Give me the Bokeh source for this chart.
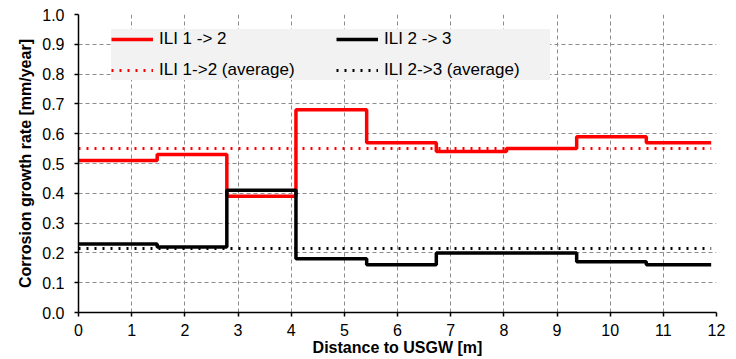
from bokeh.plotting import figure
from bokeh.models import Range1d, SingleIntervalTicker, Legend, LegendItem, NumeralTickFormatter
from bokeh.embed import file_html
from bokeh.resources import INLINE

# Segment edges along the pipe [m]
edges = [0, 1.48, 2.79, 4.09, 5.42, 6.73, 8.05, 9.37, 10.68, 11.9]
# Corrosion growth rates per segment [mm/year]
ili_12 = [0.51, 0.53, 0.39, 0.68, 0.57, 0.54, 0.55, 0.59, 0.57]
ili_23 = [0.23, 0.22, 0.41, 0.18, 0.16, 0.20, 0.20, 0.17, 0.16]
avg_12 = 0.55
avg_23 = 0.215

FONT = "Liberation Sans"

p = figure(width=736, height=359, output_backend="svg", toolbar_location=None,
           x_range=Range1d(0, 12), y_range=Range1d(0, 1),
           min_border_left=78, min_border_right=20, min_border_top=14, min_border_bottom=47)
p.outline_line_color = None

r1 = p.step(edges, ili_12 + [ili_12[-1]], mode="after", line_color="#ff0000", line_width=3.5)
r2 = p.step(edges, ili_23 + [ili_23[-1]], mode="after", line_color="#000000", line_width=3.5)
r3 = p.line([edges[0], edges[-1]], [avg_12, avg_12], line_color="#ff0000", line_width=3, line_dash="2 6")
r4 = p.line([edges[0], edges[-1]], [avg_23, avg_23], line_color="#000000", line_width=3, line_dash="2 6")

p.xaxis.ticker = SingleIntervalTicker(interval=1)
p.yaxis.ticker = SingleIntervalTicker(interval=0.1)
p.yaxis.formatter = NumeralTickFormatter(format="0.0")

for ax in (p.xaxis[0], p.yaxis[0]):
    ax.major_label_text_font = FONT
    ax.major_label_text_font_size = "16px"
    ax.major_label_text_color = "#000000"
    ax.axis_label_text_font = FONT
    ax.axis_label_text_font_size = "16px"
    ax.axis_label_text_font_style = "bold"
    ax.axis_label_text_color = "#000000"
    ax.axis_line_color = "#000000"
    ax.axis_line_width = 1.5
    ax.major_tick_line_color = "#000000"
    ax.major_tick_line_width = 1.5
    ax.major_tick_out = 4
    ax.major_tick_in = 0
    ax.minor_tick_line_color = None

p.xaxis.axis_label = "Distance to USGW [m]"
p.yaxis.axis_label = "Corrosion growth rate [mm/year]"
p.xaxis.major_label_standoff = 7
p.xaxis.axis_label_standoff = 0
p.yaxis.major_label_standoff = 10
p.yaxis.axis_label_standoff = 5

for g in (p.xgrid[0], p.ygrid[0]):
    g.grid_line_color = "#8c8c8c"
    g.grid_line_dash = "4 3"
    g.grid_line_width = 1

legend = Legend(items=[
    LegendItem(label="ILI 1 -> 2", renderers=[r1]),
    LegendItem(label="ILI 2 -> 3", renderers=[r2]),
    LegendItem(label="ILI 1->2 (average)", renderers=[r3]),
    LegendItem(label="ILI 2->3 (average)", renderers=[r4]),
], location=(33, 232), orientation="horizontal", ncols=2)
legend.background_fill_color = "#f2f2f2"
legend.background_fill_alpha = 1
legend.border_line_color = None
legend.label_text_font = FONT
legend.label_text_font_size = "17px"
legend.label_text_color = "#000000"
legend.glyph_width = 42
legend.glyph_height = 20
legend.label_height = 20
legend.label_width = 166
legend.label_standoff = 6
legend.spacing = 11
legend.padding = 6
legend.margin = 0
p.add_layout(legend, "center")

open("out.html", "w").write(file_html(p, INLINE))
